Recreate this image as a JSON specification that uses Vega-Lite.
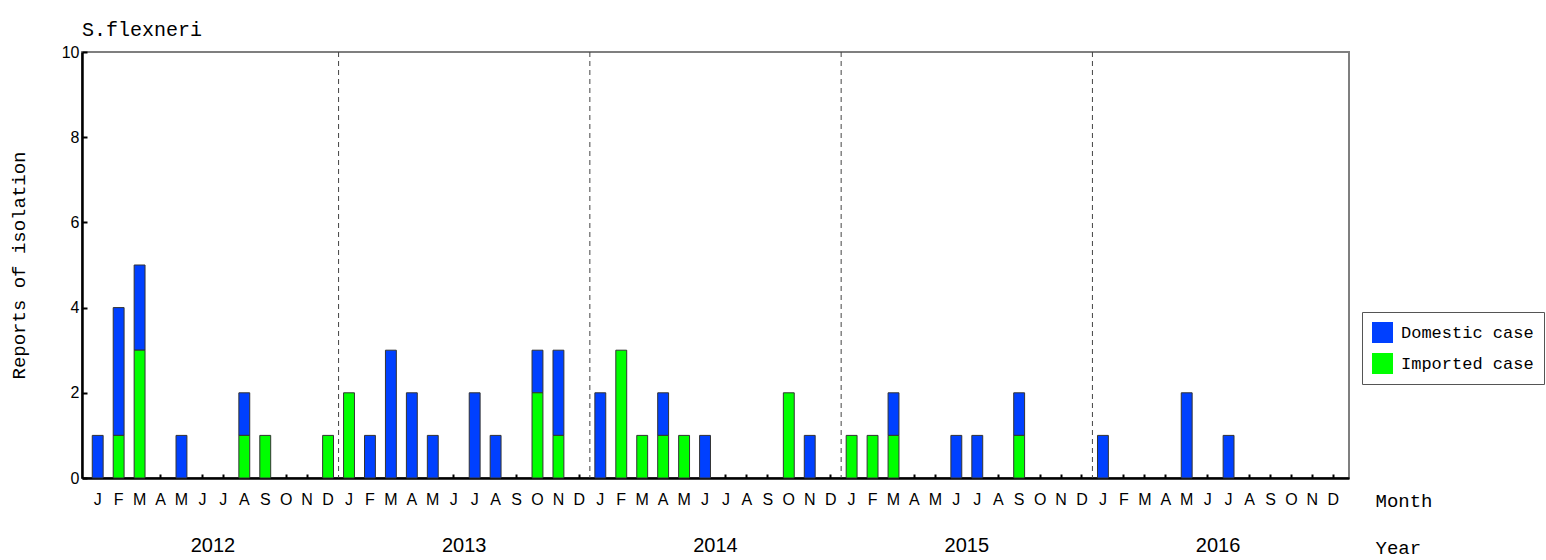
{
  "$schema": "https://vega.github.io/schema/vega-lite/v6.json",
  "width": 1267,
  "height": 426,
  "autosize": "none",
  "padding": {"left": 82, "top": 52, "right": 197, "bottom": 82},
  "background": "white",
  "title": {"text": "S.flexneri", "anchor": "start", "frame": "group", "font": "Liberation Mono", "fontSize": 20, "fontWeight": "normal", "color": "black", "offset": 4},
  "config": {
    "view": {"stroke": "#7f7f7f", "strokeWidth": 2},
    "axis": {"grid": false, "domainColor": "black", "domainWidth": 2.5, "tickColor": "black", "tickWidth": 2, "labelColor": "black", "titleColor": "black", "titleFontWeight": "normal"}
  },
  "datasets": {
    "months": [
      {"month": "2012-01", "Domestic case": 1, "Imported case": 0},
      {"month": "2012-02", "Domestic case": 3, "Imported case": 1},
      {"month": "2012-03", "Domestic case": 2, "Imported case": 3},
      {"month": "2012-04", "Domestic case": 0, "Imported case": 0},
      {"month": "2012-05", "Domestic case": 1, "Imported case": 0},
      {"month": "2012-06", "Domestic case": 0, "Imported case": 0},
      {"month": "2012-07", "Domestic case": 0, "Imported case": 0},
      {"month": "2012-08", "Domestic case": 1, "Imported case": 1},
      {"month": "2012-09", "Domestic case": 0, "Imported case": 1},
      {"month": "2012-10", "Domestic case": 0, "Imported case": 0},
      {"month": "2012-11", "Domestic case": 0, "Imported case": 0},
      {"month": "2012-12", "Domestic case": 0, "Imported case": 1},
      {"month": "2013-01", "Domestic case": 0, "Imported case": 2},
      {"month": "2013-02", "Domestic case": 1, "Imported case": 0},
      {"month": "2013-03", "Domestic case": 3, "Imported case": 0},
      {"month": "2013-04", "Domestic case": 2, "Imported case": 0},
      {"month": "2013-05", "Domestic case": 1, "Imported case": 0},
      {"month": "2013-06", "Domestic case": 0, "Imported case": 0},
      {"month": "2013-07", "Domestic case": 2, "Imported case": 0},
      {"month": "2013-08", "Domestic case": 1, "Imported case": 0},
      {"month": "2013-09", "Domestic case": 0, "Imported case": 0},
      {"month": "2013-10", "Domestic case": 1, "Imported case": 2},
      {"month": "2013-11", "Domestic case": 2, "Imported case": 1},
      {"month": "2013-12", "Domestic case": 0, "Imported case": 0},
      {"month": "2014-01", "Domestic case": 2, "Imported case": 0},
      {"month": "2014-02", "Domestic case": 0, "Imported case": 3},
      {"month": "2014-03", "Domestic case": 0, "Imported case": 1},
      {"month": "2014-04", "Domestic case": 1, "Imported case": 1},
      {"month": "2014-05", "Domestic case": 0, "Imported case": 1},
      {"month": "2014-06", "Domestic case": 1, "Imported case": 0},
      {"month": "2014-07", "Domestic case": 0, "Imported case": 0},
      {"month": "2014-08", "Domestic case": 0, "Imported case": 0},
      {"month": "2014-09", "Domestic case": 0, "Imported case": 0},
      {"month": "2014-10", "Domestic case": 0, "Imported case": 2},
      {"month": "2014-11", "Domestic case": 1, "Imported case": 0},
      {"month": "2014-12", "Domestic case": 0, "Imported case": 0},
      {"month": "2015-01", "Domestic case": 0, "Imported case": 1},
      {"month": "2015-02", "Domestic case": 0, "Imported case": 1},
      {"month": "2015-03", "Domestic case": 1, "Imported case": 1},
      {"month": "2015-04", "Domestic case": 0, "Imported case": 0},
      {"month": "2015-05", "Domestic case": 0, "Imported case": 0},
      {"month": "2015-06", "Domestic case": 1, "Imported case": 0},
      {"month": "2015-07", "Domestic case": 1, "Imported case": 0},
      {"month": "2015-08", "Domestic case": 0, "Imported case": 0},
      {"month": "2015-09", "Domestic case": 1, "Imported case": 1},
      {"month": "2015-10", "Domestic case": 0, "Imported case": 0},
      {"month": "2015-11", "Domestic case": 0, "Imported case": 0},
      {"month": "2015-12", "Domestic case": 0, "Imported case": 0},
      {"month": "2016-01", "Domestic case": 1, "Imported case": 0},
      {"month": "2016-02", "Domestic case": 0, "Imported case": 0},
      {"month": "2016-03", "Domestic case": 0, "Imported case": 0},
      {"month": "2016-04", "Domestic case": 0, "Imported case": 0},
      {"month": "2016-05", "Domestic case": 2, "Imported case": 0},
      {"month": "2016-06", "Domestic case": 0, "Imported case": 0},
      {"month": "2016-07", "Domestic case": 1, "Imported case": 0},
      {"month": "2016-08", "Domestic case": 0, "Imported case": 0},
      {"month": "2016-09", "Domestic case": 0, "Imported case": 0},
      {"month": "2016-10", "Domestic case": 0, "Imported case": 0},
      {"month": "2016-11", "Domestic case": 0, "Imported case": 0},
      {"month": "2016-12", "Domestic case": 0, "Imported case": 0}
    ],
    "years": [
      {"year": "2012"}, {"year": "2013"}, {"year": "2014"}, {"year": "2015"}, {"year": "2016"}
    ]
  },
  "resolve": {"scale": {"x": "independent"}, "axis": {"x": "independent"}},
  "layer": [
    {
      "data": {"name": "months"},
      "transform": [{"fold": ["Domestic case", "Imported case"], "as": ["type", "count"]}],
      "mark": {"type": "bar", "strokeWidth": 1},
      "encoding": {
        "x": {
          "field": "month", "type": "ordinal", "sort": "ascending",
          "scale": {"paddingInner": 0.48, "paddingOuter": 0.49},
          "axis": {
            "orient": "bottom", "labelAngle": 0,
            "labelExpr": "substring('JFMAMJJASOND', toNumber(substring(datum.value, 5, 7)) - 1, toNumber(substring(datum.value, 5, 7)))",
            "labelFont": "Liberation Sans Narrow, Liberation Sans", "labelFontSize": 16, "labelPadding": 17,
            "tickSize": -4,
            "title": "Month", "titleFont": "Liberation Mono", "titleFontSize": 19,
            "titleX": 1293, "titleY": 22, "titleAlign": "left", "titleBaseline": "middle", "titleAnchor": null
          }
        },
        "y": {
          "field": "count", "type": "quantitative", "stack": "zero",
          "scale": {"domain": [0, 10], "nice": false},
          "axis": {
            "values": [0, 2, 4, 6, 8, 10], "labelFont": "Liberation Sans", "labelFontSize": 16, "labelPadding": 8,
            "tickSize": -5,
            "title": "Reports of isolation", "titleFont": "Liberation Mono", "titleFontSize": 19,
            "titleX": -64, "titleY": 213, "titleAngle": -90, "titleAlign": "center", "titleBaseline": "middle"
          }
        },
        "color": {
          "field": "type", "type": "nominal",
          "scale": {"domain": ["Domestic case", "Imported case"], "range": ["#0040FF", "#00FF00"]},
          "legend": {
            "title": null, "orient": "none", "legendX": 1280, "legendY": 260,
            "strokeColor": "#555", "fillColor": "white", "padding": 10,
            "symbolType": "square", "symbolSize": 441, "symbolStrokeWidth": 0, "symbolOpacity": 1,
            "labelFont": "Liberation Mono", "labelFontSize": 17, "labelColor": "black", "labelOffset": 8, "rowPadding": 10
          }
        },
        "order": {"field": "type", "sort": "descending"},
        "stroke": {"condition": {"test": "datum.count > 0", "value": "#333333"}, "value": null}
      }
    },
    {
      "data": {"name": "years"},
      "mark": {"type": "rule", "strokeDash": [5, 4], "strokeWidth": 1},
      "encoding": {
        "x": {
          "field": "year", "type": "ordinal", "bandPosition": 0,
          "scale": {"paddingInner": 0, "paddingOuter": 0.021},
          "axis": {
            "orient": "bottom", "domain": false, "ticks": false, "labelAngle": 0,
            "labelFont": "Liberation Sans", "labelFontSize": 20, "labelPadding": 57,
            "title": "Year", "titleFont": "Liberation Mono", "titleFontSize": 19,
            "titleX": 1293, "titleY": 69, "titleAlign": "left", "titleBaseline": "middle", "titleAnchor": null
          }
        },
        "color": {"condition": {"test": "datum.year == '2012'", "value": "transparent"}, "value": "#444444"}
      }
    }
  ]
}
